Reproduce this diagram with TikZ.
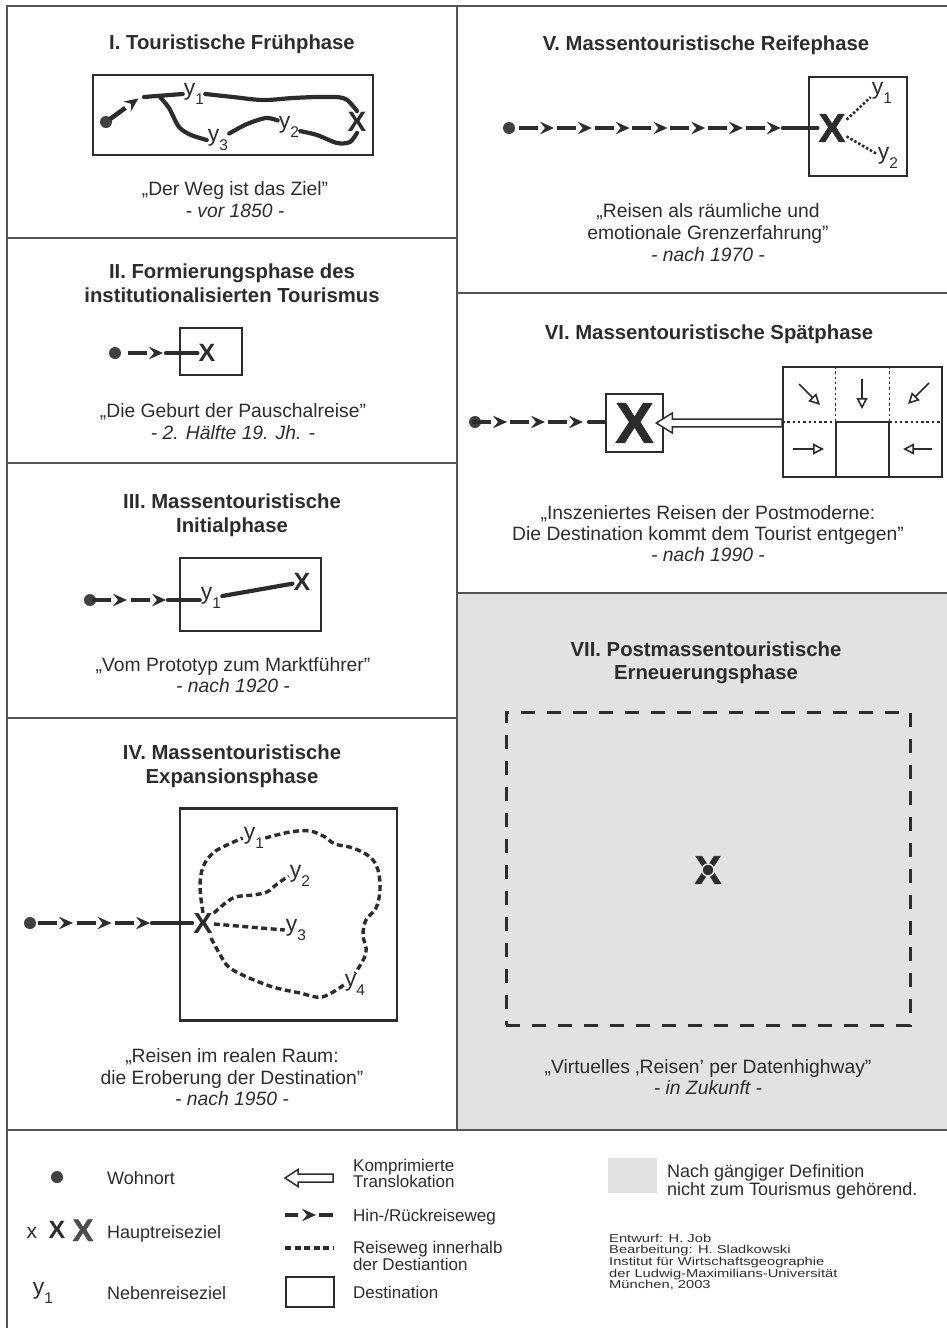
\documentclass[tikz,border=0pt]{standalone}
\usepackage{fontspec}
\setmainfont{Liberation Sans}
\newfontfamily\heavyfont[FakeBold=1.5]{Liberation Sans Bold}
\newfontfamily\credfont[FakeStretch=1.28]{Liberation Sans}
\usetikzlibrary{calc,decorations.markings,arrows.meta}
\definecolor{ink}{HTML}{2C2C2C}
\definecolor{framec}{HTML}{555555}
\definecolor{panelgray}{HTML}{E2E2E2}
\newcommand\hinhead{\fill[ink] (0,0) -- (-14,-6.3) -- (-9,0) -- (-14,6.3) -- cycle;}
\newcommand\hinpiece{\fill[ink] (-35,-2.3) rectangle (-16,2.3);\hinhead}
\newcommand\ysub[1]{y\raisebox{-0.38em}{\fontsize{15.5}{15.5}\selectfont #1}}
\newcommand\hollowarrow[5]{%
  \draw[ink, line width=1.5pt, fill=white, line join=miter]
    let \p1=(#1), \p2=(#2) in
    (\x1,\y2+#3pt) -- (\x2+#5pt,\y2+#3pt) -- (\x2+#5pt,\y2+#4pt) -- (\x2,\y2)
    -- (\x2+#5pt,\y2-#4pt) -- (\x2+#5pt,\y2-#3pt) -- (\x1,\y2-#3pt) -- cycle;}
\begin{document}
\begin{tikzpicture}[x=1pt,y=-1pt,
  ttl/.style={anchor=base, inner sep=0pt, text=ink, font=\bfseries\fontsize{20.3}{24}\selectfont},
  quo/.style={anchor=base, inner sep=0pt, text=ink, font=\fontsize{19.3}{22}\selectfont},
  dat/.style={anchor=base, inner sep=0pt, text=ink, font=\itshape\fontsize{19.3}{22}\selectfont},
  legtxt/.style={anchor=base west, inner sep=0pt, text=ink, font=\fontsize{18}{18}\selectfont},
  legsmall/.style={anchor=base west, inner sep=0pt, text=ink, font=\fontsize{17}{17}\selectfont},
  credtxt/.style={anchor=base west, inner sep=0pt, text=ink, font=\credfont\fontsize{11.5}{11.5}\selectfont},
  dest/.style={draw=ink, line width=2.6pt, inner sep=0pt},
  home/.style={circle, fill=ink!90, inner sep=0pt, minimum size=12pt},
  trail/.style={draw=ink, line width=4.2pt, line cap=round},
  withindest/.style={draw=ink, line width=3.4pt, dash pattern=on 6pt off 3.5pt},
  dotline/.style={draw=ink, line width=2.6pt, dash pattern=on 2.5pt off 2pt},
  ylab/.style={inner sep=1pt, text=ink, font=\fontsize{23}{23}\selectfont},
  xmark/.style={inner sep=1pt, text=ink, font=\bfseries\fontsize{#1}{#1}\selectfont},
  heavymark/.style={inner sep=1pt, text=ink, font=\heavyfont\fontsize{#1}{#1}\selectfont},
  hin/.style={decoration={markings, mark=between positions #1 with {\hinpiece}}, decorate},
  griddot/.style={draw=ink, line width=1.6pt, dash pattern=on 2.5pt off 2.8pt},
  gridsolid/.style={draw=ink, line width=2pt},
  smallarr/.style={draw=ink, line width=1.6pt, -{Triangle[open, length=11pt, width=11pt]}},
  framel/.style={draw=framec, line width=1.8pt}
]
\useasboundingbox (0,0) rectangle (947,1328);
% ---------- frame ----------
\fill[panelgray] (457,593) rectangle (947,1130);
\draw[framel] (7,1328) -- (7,6) -- (947,6);
\draw[framel] (457,6) -- (457,1130);
\draw[framel] (7,238) -- (457,238) (7,463) -- (457,463) (7,718) -- (457,718)
  (7,1130) -- (947,1130) (457,293) -- (947,293) (457,593) -- (947,593);

% ---------- Panel I ----------
\node[ttl] (t1) at (232,49) {I. Touristische Frühphase};
\node[dest, minimum width=280, minimum height=80] (box1) at (233,115) {};
\node[home] (dot1) at (106,122) {};
\coordinate (tip1) at (139,98);
\node[ylab] (y11) at (194,94) {\ysub{1}};
\node[ylab] (y31) at (218,140) {\ysub{3}};
\node[ylab] (y21) at (289,127) {\ysub{2}};
\node[xmark=28] (X1) at (357,122) {X};
\path[hin={40pt and 41pt step 37.8pt}] (dot1.center) -- (tip1);
\coordinate (s1) at (144,97);
\coordinate (b1) at (160,97);
\draw[trail] (s1) -- (y11.west);
\draw[trail] plot[smooth, tension=0.6] coordinates {(y11.east) (233,97) (263,100) (293,98) (320,97) (343,98) (353,106) (X1.north)};
\draw[trail] plot[smooth] coordinates {(b1) (169,108) (179,127) (191,135) (y31.west)};
\draw[trail] plot[smooth] coordinates {(y31.30) (247,124) (266,118) (y21.150)};
\draw[trail] plot[smooth] coordinates {(y21.-20) (317,135) (337,143) (350,142) (X1.south)};
\node[quo] (q1) at (235,195) {„Der Weg ist das Ziel”};
\node[dat] (d1) at (235,217) {- vor 1850 -};

% ---------- Panel II ----------
\node[ttl] (t2a) at (232,278) {II. Formierungsphase des};
\node[ttl] (t2b) at (232,302) {institutionalisierten Tourismus};
\node[dest, minimum width=62, minimum height=47] (box2) at (211,351.5) {};
\node[home] (dot2) at (115,353) {};
\node[xmark=25] (X2) at (207,353) {X};
\path[hin={48pt and 49pt step 37.8pt}] (dot2.center) -- (X2.center);
\coordinate (s2) at (166,353);
\draw[trail] (s2) -- (X2.west);
\node[quo] (q2) at (233,417) {„Die Geburt der Pauschalreise”};
\node[dat] (d2) at (233,439) {- 2. Hälfte 19. Jh. -};

% ---------- Panel III ----------
\node[ttl] (t3a) at (232,508) {III. Massentouristische};
\node[ttl] (t3b) at (232,532) {Initialphase};
\node[dest, minimum width=141, minimum height=73] (box3) at (250.5,594.5) {};
\node[home] (dot3) at (90,600) {};
\node[ylab] (y13) at (211,598) {\ysub{1}};
\node[xmark=25] (X3) at (302,582) {X};
\path[hin={37pt and 77pt step 39pt}] (dot3.center) -- (dot3.center -| y13.center);
\coordinate (s3) at (168,600);
\draw[trail] (s3) -- (s3 -| y13.west);
\draw[trail] (y13) -- (X3);
\node[quo] (q3) at (233,671) {„Vom Prototyp zum Marktführer”};
\node[dat] (d3) at (233,692) {- nach 1920 -};

% ---------- Panel IV ----------
\node[ttl] (t4a) at (232,759) {IV. Massentouristische};
\node[ttl] (t4b) at (232,783) {Expansionsphase};
\node[dest, minimum width=217, minimum height=212] (box4) at (288.5,914.5) {};
\node[home] (dot4) at (30,923) {};
\node[xmark=29] (X4) at (203,924) {X};
\node[ylab] (y14) at (254,838) {\ysub{1}};
\node[ylab] (y24) at (300,876) {\ysub{2}};
\node[ylab] (y34) at (296,930) {\ysub{3}};
\node[ylab] (y44) at (355,985) {\ysub{4}};
\path[hin={43pt and 122pt step 38.5pt}] (dot4.center) -- (dot4.center -| X4.center);
\coordinate (s4) at (152,923);
\draw[trail] (s4) -- (s4 -| X4.west);
\draw[withindest] plot[smooth, tension=0.6] coordinates {(X4.north) (200,887) (203,867) (213,853) (227,845) (y14.west)};
\draw[withindest] plot[smooth, tension=0.6] coordinates {(y14.east) (290,832) (310,831) (325,837) (335,844) (353,848) (370,857) (378,870) (380,890) (376,908) (366,920) (363,935) (366,953) (y44.north)};
\draw[withindest] plot[smooth, tension=0.6] coordinates {(y44.west) (322,997) (300,993) (273,987) (247,977) (230,968) (222,958) (X4.-60)};
\draw[withindest] plot[smooth, tension=0.6] coordinates {(X4.45) (233,898) (253,895) (267,892) (277,884) (y24.west)};
\draw[withindest] (X4.east) -- (y34.west);
\node[quo] (q4a) at (232,1062) {„Reisen im realen Raum:};
\node[quo] (q4b) at (232,1084) {die Eroberung der Destination”};
\node[dat] (d4) at (232,1105) {- nach 1950 -};

% ---------- Panel V ----------
\node[ttl] (t5) at (706,50) {V. Massentouristische Reifephase};
\node[dest, minimum width=98, minimum height=99] (box5) at (858,126.5) {};
\node[home] (dot5) at (509,128) {};
\node[heavymark=40] (X5) at (832,128) {X};
\node[ylab] (y15) at (882,93) {\ysub{1}};
\node[ylab] (y25) at (888,158) {\ysub{2}};
\path[hin={45pt and 275pt step 37.8pt}] (dot5.center) -- (X5.center);
\coordinate (s5) at (783,128);
\draw[trail] (s5) -- (X5.west);
\draw[dotline] (X5.30) -- (y15.200);
\draw[dotline] (X5.-30) -- (y25.160);
\node[quo] (q5a) at (708,217) {„Reisen als räumliche und};
\node[quo] (q5b) at (708,239) {emotionale Grenzerfahrung”};
\node[dat] (d5) at (708,261) {- nach 1970 -};

% ---------- Panel VI ----------
\node[ttl] (t6) at (709,339) {VI. Massentouristische Spätphase};
\node[dest, minimum width=57, minimum height=58] (X6box) at (634.5,423) {};
\node[heavymark=57] (X6) at (X6box.center) {X};
\node[home] (dot6) at (475,422) {};
\path[hin={32pt and 110pt step 38pt}] (dot6.center) -- (dot6.center -| X6box.center);
\coordinate (s6) at (589,422);
\draw[trail] (s6) -- (s6 -| X6box.west);
\node[draw=ink, line width=2pt, minimum width=159, minimum height=110, inner sep=0pt] (grid) at (862.5,422) {};
\draw[griddot] ($(grid.north west)!1/3!(grid.north east)$) -- ($(grid.west)!1/3!(grid.east)$);
\draw[griddot] ($(grid.north west)!2/3!(grid.north east)$) -- ($(grid.west)!2/3!(grid.east)$);
\draw[griddot] (grid.west) -- ($(grid.west)!1/3!(grid.east)$);
\draw[griddot] ($(grid.west)!2/3!(grid.east)$) -- (grid.east);
\draw[gridsolid] ($(grid.south west)!1/3!(grid.south east)$) -- ($(grid.west)!1/3!(grid.east)$)
  -- ($(grid.west)!2/3!(grid.east)$) -- ($(grid.south west)!2/3!(grid.south east)$);
\draw[smallarr] (799,384) -- (820,405);
\draw[smallarr] (862,379) -- (862,409);
\draw[smallarr] (929,383) -- (908,404);
\draw[smallarr] (793,449) -- (824,449);
\draw[smallarr] (932,449) -- (903,449);
\hollowarrow{grid.west}{$(X6box.east)+(-8,0)$}{3.9}{10}{16}
\node[quo] (q6a) at (708,519) {„Inszeniertes Reisen der Postmoderne:};
\node[quo] (q6b) at (708,540) {Die Destination kommt dem Tourist entgegen”};
\node[dat] (d6) at (708,561) {- nach 1990 -};

% ---------- Panel VII ----------
\node[ttl] (t7a) at (706,656) {VII. Postmassentouristische};
\node[ttl] (t7b) at (706,679) {Erneuerungsphase};
\node[draw=ink, line width=3pt, dash pattern=on 14pt off 12pt, minimum width=404, minimum height=313, inner sep=0pt] (virt) at (708,868.5) {};
\node[heavymark=40] (X7) at (708,870) {X};
\node[circle, fill=ink, draw=panelgray, line width=1.5pt, minimum size=12pt, inner sep=0pt] (dot7) at (X7.center) {};
\node[quo] (q7) at (708,1073) {„Virtuelles ‚Reisen’ per Datenhighway”};
\node[dat] (d7) at (708,1094) {- in Zukunft -};

% ---------- Legend ----------
\node[home] (ldot) at (57,1177) {};
\node[legtxt] (lwohn) at (107,1184) {Wohnort};
\node[anchor=base, inner sep=0pt, text=ink, font=\fontsize{21}{21}\selectfont] (lx1) at (32,1238) {x};
\node[anchor=base, inner sep=0pt, text=ink, font=\bfseries\fontsize{25}{25}\selectfont] (lx2) at (57,1238) {X};
\node[anchor=base, inner sep=0pt, text=ink!85, font=\heavyfont\fontsize{31}{31}\selectfont] (lx3) at (83,1241) {X};
\node[legtxt] (lhaupt) at (107,1238) {Hauptreiseziel};
\node[ylab] (ly) at (43,1293) {\ysub{1}};
\node[legtxt] (lneben) at (107,1299) {Nebenreiseziel};

\coordinate (la1) at (333,1178);
\coordinate (la2) at (285,1178);
\hollowarrow{la1}{la2}{4}{8.5}{13}
\node[legsmall] (lkomp1) at (353,1171) {Komprimierte};
\node[legsmall] (lkomp2) at (353,1187) {Translokation};

\coordinate (lh1) at (285,1215);
\coordinate (lh2) at (333,1215);
\path[decoration={markings, mark=at position 31pt with {\hinhead}}, decorate] (lh1) -- (lh2);
\draw[ink, line width=4.4pt] (lh1) -- ++(13,0);
\draw[ink, line width=4.4pt] (lh2) -- ++(-14,0);
\node[legsmall] (lhin) at (353,1221) {Hin-/Rückreiseweg};

\coordinate (ld1) at (285,1248);
\coordinate (ld2) at (333,1248);
\draw[withindest] (ld1) -- (ld2);
\node[legsmall] (lrw1) at (353,1253) {Reiseweg innerhalb};
\node[legsmall] (lrw2) at (353,1270) {der Destiantion};

\node[dest, minimum width=48, minimum height=30] (lrect) at (310,1292) {};
\node[legsmall] (ldest) at (353,1298) {Destination};

\node[fill=panelgray, minimum width=49, minimum height=35, inner sep=0pt] (graysq) at (632.5,1175.5) {};
\node[legtxt] (lnach1) at (667,1177) {Nach gängiger Definition};
\node[legtxt] (lnach2) at (667,1195) {nicht zum Tourismus gehörend.};

\node[credtxt] (c1) at (609,1242) {Entwurf: H. Job};
\node[credtxt] (c2) at (609,1253.7) {Bearbeitung: H. Sladkowski};
\node[credtxt] (c3) at (609,1265.4) {Institut für Wirtschaftsgeographie};
\node[credtxt] (c4) at (609,1277.1) {der Ludwig-Maximilians-Universität};
\node[credtxt] (c5) at (609,1288.8) {München, 2003};
\end{tikzpicture}
\end{document}
